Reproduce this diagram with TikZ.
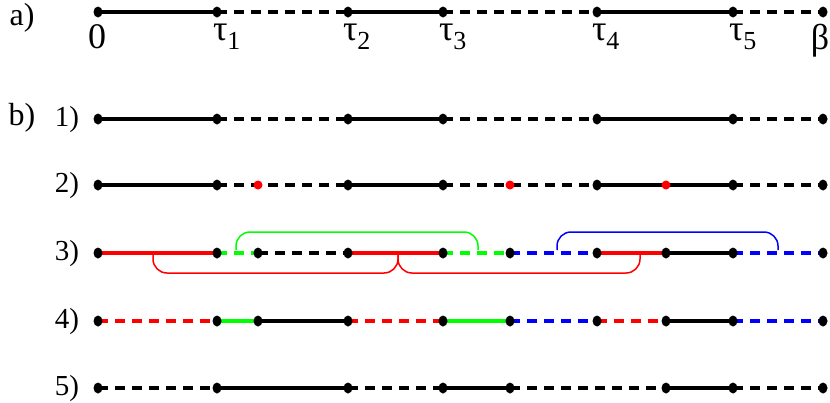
\documentclass[tikz,border=0pt]{standalone}
\usepackage{fontspec}
\setmainfont{Liberation Serif}
\usetikzlibrary{shapes.geometric}
\begin{document}
\begin{tikzpicture}[x=1pt,y=-1pt,
  dot/.style={ellipse,fill=black,inner sep=0pt,minimum width=9pt,minimum height=11pt},
  rdot/.style={circle,fill=red,inner sep=0pt,minimum size=9pt},
  seg/.style={line width=3.8pt},
  dsh/.style={line width=3.8pt,dash pattern=on 10pt off 7pt},
  brk/.style={line width=1.5pt,rounded corners=14pt},
  lab/.style={font=\fontsize{32}{32}\selectfont,inner sep=0pt},
  rlab/.style={font=\fontsize{29}{29}\selectfont,inner sep=0pt},
  tlab/.style={font=\fontsize{36}{36}\selectfont,inner sep=0pt,anchor=north}]
\useasboundingbox (0,0) rectangle (830,402);
\newcommand\subn[1]{\textsubscript{\fontsize{26}{26}\selectfont #1}}
% row a
\foreach \n/\x in {0/98,1/217,2/348,3/443,4/597,5/733,6/823}{\coordinate (a\n) at (\x,12);}
\draw[seg] (a0)--(a1); \draw[dsh] (a1)--(a2); \draw[seg] (a2)--(a3); \draw[dsh] (a3)--(a4); \draw[seg] (a4)--(a5); \draw[dsh] (a5)--(a6);
\foreach \n in {0,...,6}{\node[dot] (a\n d) at (a\n) {};}
\node[lab] (la) at (22,18) {a)};
\node[tlab] (t0) at (97,24) {0};
\node[tlab] (t1) at (227,24) {τ\subn{1}};
\node[tlab] (t2) at (357,24) {τ\subn{2}};
\node[tlab] (t3) at (453,24) {τ\subn{3}};
\node[tlab] (t4) at (606,24) {τ\subn{4}};
\node[tlab] (t5) at (743,24) {τ\subn{5}};
\node[tlab] (t6) at (820,24) {β};
\node[lab] (lb) at (22,118) {b)};
% row labels
\node[rlab] (l1) at (67,120) {1)};
\node[rlab] (l2) at (67,186) {2)};
\node[rlab] (l3) at (67,254) {3)};
\node[rlab] (l4) at (67,322) {4)};
\node[rlab] (l5) at (67,389) {5)};
% row 1
\foreach \n/\x in {0/98,1/217,2/348,3/443,4/597,5/733,6/823}{\coordinate (b\n) at (\x,119);}
\draw[seg] (b0)--(b1); \draw[dsh] (b1)--(b2); \draw[seg] (b2)--(b3); \draw[dsh] (b3)--(b4); \draw[seg] (b4)--(b5); \draw[dsh] (b5)--(b6);
\foreach \n in {0,...,6}{\node[dot] (b\n d) at (b\n) {};}
% row 2
\foreach \n/\x in {0/98,1/217,2/348,3/443,4/597,5/733,6/823}{\coordinate (c\n) at (\x,185);}
\draw[seg] (c0)--(c1); \draw[dsh] (c1)--(c2); \draw[seg] (c2)--(c3); \draw[dsh] (c3)--(c4); \draw[seg] (c4)--(c5); \draw[dsh] (c5)--(c6);
\foreach \n in {0,...,6}{\node[dot] (c\n d) at (c\n) {};}
\node[rdot] (cr1) at (258,185) {};
\node[rdot] (cr2) at (510,185) {};
\node[rdot] (cr3) at (666,185) {};
% row 3
\foreach \n/\x in {0/98,1/217,2/258,3/348,4/443,5/510,6/597,7/666,8/733,9/823}{\coordinate (d\n) at (\x,253);}
\draw[seg,red] (d0)--(d1); \draw[dsh,green] (d1)--(d2); \draw[dsh] (d2)--(d3); \draw[seg,red] (d3)--(d4);
\draw[dsh,green] (d4)--(d5); \draw[dsh,blue] (d5)--(d6); \draw[seg,red] (d6)--(d7); \draw[seg] (d7)--(d8); \draw[dsh,blue] (d8)--(d9);
\foreach \n in {0,...,9}{\node[dot] (d\n d) at (d\n) {};}
\coordinate (g1) at (236,250); \coordinate (g2) at (478,250);
\draw[brk,green] (g1) -- (236,232) -- (478,232) -- (g2);
\coordinate (u1) at (557,250); \coordinate (u2) at (778,250);
\draw[brk,blue] (u1) -- (557,232) -- (778,232) -- (u2);
\coordinate (r1) at (153,253); \coordinate (r2) at (398,253); \coordinate (r3) at (640,253);
\draw[brk,red] (r1) -- (153,273) -- (398,273) -- (r2);
\draw[brk,red] (r2) -- (398,273) -- (640,273) -- (r3);
% row 4
\foreach \n/\x in {0/98,1/217,2/258,3/348,4/443,5/510,6/597,7/666,8/733,9/823}{\coordinate (e\n) at (\x,321);}
\draw[dsh,red] (e0)--(e1); \draw[seg,green] (e1)--(e2); \draw[seg] (e2)--(e3); \draw[dsh,red] (e3)--(e4);
\draw[seg,green] (e4)--(e5); \draw[dsh,blue] (e5)--(e6); \draw[dsh,red] (e6)--(e7); \draw[seg] (e7)--(e8); \draw[dsh,blue] (e8)--(e9);
\foreach \n in {0,...,9}{\node[dot] (e\n d) at (e\n) {};}
% row 5
\foreach \n/\x in {0/98,1/217,2/348,3/443,4/510,5/666,6/733,7/823}{\coordinate (f\n) at (\x,388);}
\draw[dsh] (f0)--(f1); \draw[seg] (f1)--(f2); \draw[dsh] (f2)--(f3); \draw[seg] (f3)--(f4);
\draw[dsh] (f4)--(f5); \draw[seg] (f5)--(f6); \draw[dsh] (f6)--(f7);
\foreach \n in {0,...,7}{\node[dot] (f\n d) at (f\n) {};}
\end{tikzpicture}
\end{document}
